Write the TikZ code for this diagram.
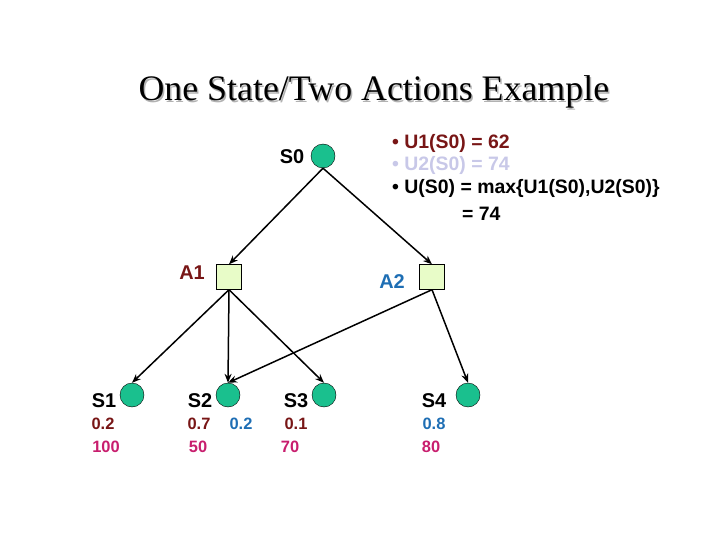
\documentclass[tikz,border=0pt]{standalone}
\usepackage{fontspec}
\setmainfont{Liberation Serif}
\newfontfamily\arialfont{Liberation Sans}
\usetikzlibrary{arrows.meta}

\definecolor{statecol}{RGB}{26,192,142}
\definecolor{actcol}{RGB}{232,252,200}
\definecolor{darkred}{RGB}{120,22,22}
\definecolor{actblue}{RGB}{30,110,180}
\definecolor{valcol}{RGB}{200,30,110}
\definecolor{lavender}{RGB}{200,200,232}

\tikzset{
  state/.style={circle, draw=black, fill=statecol, minimum size=24bp, inner sep=0pt},
  action/.style={rectangle, draw=black, fill=actcol, minimum size=25bp, inner sep=0pt},
  lbl/.style={font=\arialfont\bfseries\fontsize{20}{22}\selectfont, inner sep=0pt},
  num/.style={font=\arialfont\bfseries\fontsize{16.5}{18}\selectfont, inner sep=0pt},
  info/.style={font=\arialfont\bfseries\fontsize{19.5}{21}\selectfont, inner sep=0pt, anchor=west},
  edge/.style={-{Stealth[length=9bp,width=7bp]}, line width=1.5bp}
}

\begin{document}
\begin{tikzpicture}[x=1bp,y=-1bp]
\useasboundingbox (0,0) rectangle (720,540);
% title
\node[text=gray!60, font=\fontsize{36}{40}\selectfont, anchor=west] at (136.5,93.5) {One State/Two Actions Example};
\node (title) [font=\fontsize{36}{40}\selectfont, anchor=west] at (135,92) {One State/Two Actions Example};
%
% start state
\node (s0) [state] at (323,156) {};
\node (s0l) [lbl] at (292,157) {S0};
%
\node (u1) [info, text=darkred] at (392,143) {\textbullet\ U1(S0) = 62};
\node (u2) [info, text=lavender] at (392,165) {\textbullet\ U2(S0) = 74};
\node (u) [info] at (392,188) {\textbullet\ U(S0) = max\{U1(S0),U2(S0)\}};
\node (ueq) [info] at (462,214) {= 74};
%
% actions
\node (a1) [action] at (229,277) {};
\node (a1l) [lbl, text=darkred] at (192,273) {A1};
\node (a2) [action] at (432,277) {};
\node (a2l) [lbl, text=actblue] at (392,282) {A2};
%
% result states
\node (s1) [state] at (132,395) {};
\node (s1l) [lbl] at (104,401) {S1};
\node (s2) [state] at (228,395) {};
\node (s2l) [lbl] at (200,401) {S2};
\node (s3) [state] at (324,395) {};
\node (s3l) [lbl] at (296,401) {S3};
\node (s4) [state] at (468,395) {};
\node (s4l) [lbl] at (434,401) {S4};
%
% probabilities
\node (p1) [num, text=darkred] at (103,424) {0.2};
\node (p2) [num, text=darkred] at (199,424) {0.7};
\node (q2) [num, text=actblue] at (241,424) {0.2};
\node (p3) [num, text=darkred] at (296,424) {0.1};
\node (q4) [num, text=actblue] at (434,424) {0.8};
%
% utilities
\node (v1) [num, text=valcol] at (106,447) {100};
\node (v2) [num, text=valcol] at (198,447) {50};
\node (v3) [num, text=valcol] at (290,447) {70};
\node (v4) [num, text=valcol] at (431,447) {80};
%
% edges
\draw[edge] (s0.south) -- (a1.north);
\draw[edge] (s0.south) -- (a2.north);
\draw[edge] (a1.south) -- (s1.north);
\draw[edge] (a1.south) -- (s2.north);
\draw[edge] (a1.south) -- (s3.north);
\draw[edge] (a2.south) -- (s2.north);
\draw[edge] (a2.south) -- (s4.north);
\end{tikzpicture}
\end{document}
